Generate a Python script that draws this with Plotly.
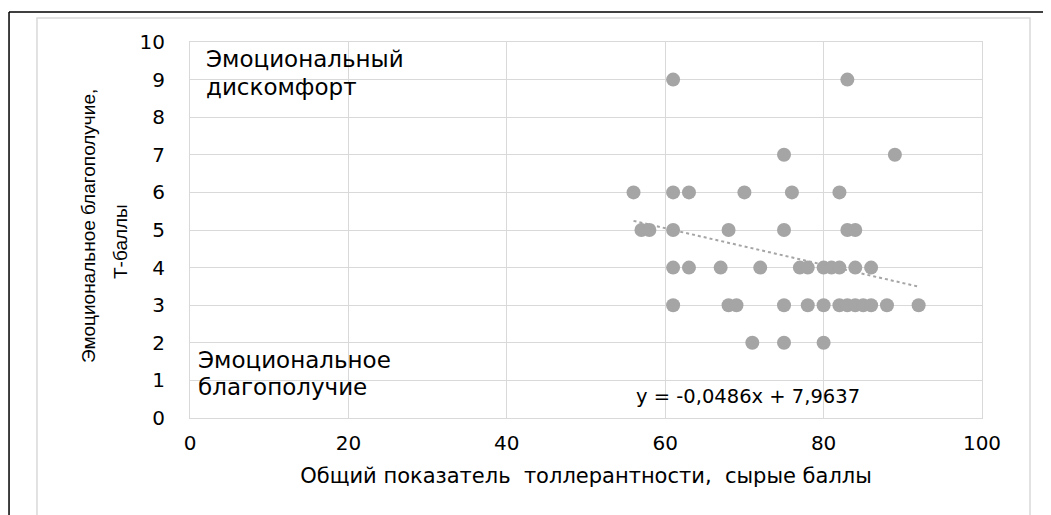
import plotly.graph_objects as go

# Data
tolerance_x = [61, 83,
               75, 89,
               56, 61, 63, 70, 76, 82,
               57, 58, 61, 68, 75, 83, 84,
               61, 63, 67, 72, 77, 78, 80, 81, 82, 84, 86,
               61, 68, 69, 75, 78, 80, 82, 83, 84, 85, 86, 88, 92,
               71, 75, 80]
wellbeing_y = [9, 9,
               7, 7,
               6, 6, 6, 6, 6, 6,
               5, 5, 5, 5, 5, 5, 5,
               4, 4, 4, 4, 4, 4, 4, 4, 4, 4, 4,
               3, 3, 3, 3, 3, 3, 3, 3, 3, 3, 3, 3, 3,
               2, 2, 2]

trend_slope = -0.0486
trend_intercept = 7.9637
trend_x = [56, 92]
trend_y = [trend_slope * v + trend_intercept for v in trend_x]

x_ticks = [0, 20, 40, 60, 80, 100]
y_ticks = [0, 1, 2, 3, 4, 5, 6, 7, 8, 9, 10]

x_title = "Общий показатель  толлерантности,  сырые баллы"
y_title_lines = ["Эмоциональное благополучие,", "Т-баллы"]
zone_top_lines = ["Эмоциональный", "дискомфорт"]
zone_bottom_lines = ["Эмоциональное", "благополучие"]
equation_text = "y = -0,0486x + 7,9637"

F_MAIN = "DejaVu Sans"
F_VERT = "Liberation Sans"
GRID = "#d9d9d9"
PT = "#a5a5a5"

fig = go.Figure()
fig.add_trace(go.Scatter(x=tolerance_x, y=wellbeing_y, mode="markers",
                         marker=dict(color=PT, size=14, line=dict(width=0)),
                         showlegend=False, hoverinfo="x+y"))
fig.add_trace(go.Scatter(x=trend_x, y=trend_y, mode="lines",
                         line=dict(color=PT, width=2, dash="dot"),
                         showlegend=False, hoverinfo="skip"))

anns = [
    dict(text=y_title_lines[0], textangle=-90, xref="paper", yref="paper",
         x=-0.1288, y=0.5106, showarrow=False, xanchor="center", yanchor="middle",
         font=dict(family=F_VERT, size=19)),
    dict(text=y_title_lines[1], textangle=-90, xref="paper", yref="paper",
         x=-0.0884, y=0.4707, showarrow=False, xanchor="center", yanchor="middle",
         font=dict(family=F_VERT, size=19)),
    dict(text=equation_text, xref="x", yref="y", x=70.45, y=0.56,
         xanchor="center", yanchor="middle", showarrow=False,
         font=dict(family=F_MAIN, size=19.5)),
]
for txt, yy in zip(zone_top_lines, [9.548, 8.803]):
    anns.append(dict(text=txt, xref="x", yref="y", x=1.8, y=yy, xanchor="left",
                     yanchor="middle", showarrow=False,
                     font=dict(family=F_MAIN, size=23)))
for txt, yy in zip(zone_bottom_lines, [1.543, 0.824]):
    anns.append(dict(text=txt, xref="x", yref="y", x=0.7, y=yy, xanchor="left",
                     yanchor="middle", showarrow=False,
                     font=dict(family=F_MAIN, size=23)))

fig.update_layout(
    width=1043, height=507,
    margin=dict(l=182, r=69, t=34, b=97),
    paper_bgcolor="white", plot_bgcolor="white",
    font=dict(family=F_MAIN, size=20, color="black"),
    xaxis=dict(range=[0, 100], tickvals=x_ticks, showgrid=True, gridcolor=GRID,
               gridwidth=1, zeroline=False, showline=True, linecolor=GRID,
               mirror=True, linewidth=1, ticks="", ticklabelstandoff=7,
               tickfont=dict(family=F_MAIN, size=20),
               title=dict(text=x_title, font=dict(family=F_MAIN, size=21),
                          standoff=14)),
    yaxis=dict(range=[0, 10], tickvals=y_ticks, showgrid=True, gridcolor=GRID,
               gridwidth=1, zeroline=False, showline=True, linecolor=GRID,
               mirror=True, linewidth=1, ticks="", ticklabelstandoff=20,
               tickfont=dict(family=F_MAIN, size=20)),
    annotations=anns,
    shapes=[
        dict(type="rect", xref="paper", yref="paper",
             x0=-0.1932, x1=1.0606, y0=-0.30, y1=1.0638,
             line=dict(color=GRID, width=1.5), fillcolor="rgba(0,0,0,0)", layer="below"),
        dict(type="line", xref="paper", yref="paper",
             x0=-0.2285, x1=1.0955, y0=1.0798, y1=1.0798,
             line=dict(color="black", width=1.5)),
        dict(type="line", xref="paper", yref="paper",
             x0=-0.2285, x1=-0.2285, y0=-0.30, y1=1.0798,
             line=dict(color="black", width=1.5)),
    ],
)

fig.write_html("out.html")
